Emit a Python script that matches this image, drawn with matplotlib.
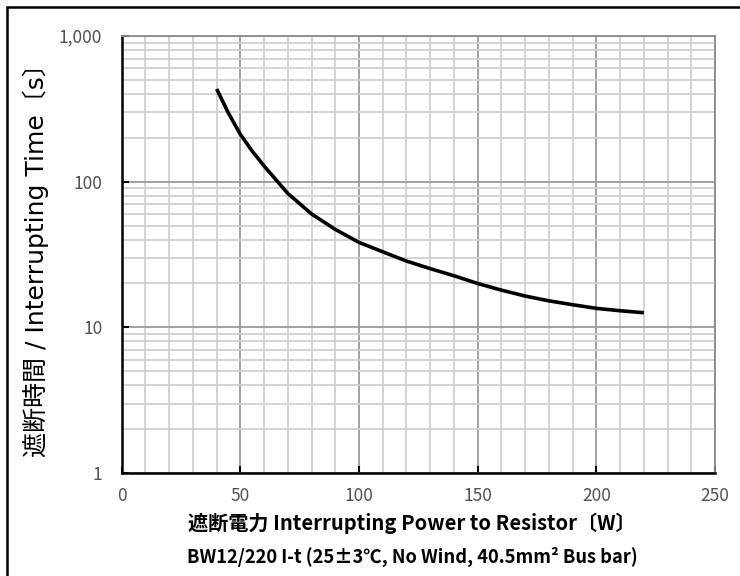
import numpy as np
import matplotlib.pyplot as plt
from matplotlib.patches import Rectangle
from matplotlib.ticker import FixedLocator, NullFormatter

# curve: power [W] vs interrupting time [s]
power = [40, 45, 50, 55, 60, 65, 70, 75, 80, 90, 100, 110, 120, 130, 140,
         150, 160, 170, 180, 190, 200, 210, 220]
time_s = [433, 295, 211, 162, 128, 103, 83, 70.6, 60, 47, 38.3, 33, 28.5, 25.3, 22.6,
          20.0, 18.0, 16.4, 15.2, 14.3, 13.5, 13.0, 12.6]

x_ticks = [0, 50, 100, 150, 200, 250]
y_ticks = [1, 10, 100, 1000]
y_tick_labels = ['1', '10', '100', '1,000']

plt.rcParams['font.family'] = ['Noto Sans CJK JP', 'DejaVu Sans']

fig = plt.figure(figsize=(7.4, 5.76), dpi=100)
ax = fig.add_axes([0.1645, 0.1788, 0.8017, 0.7587])

ax.set_yscale('log')
ax.set_xlim(0, 250)
ax.set_ylim(1, 1000)

ax.xaxis.set_major_locator(FixedLocator(x_ticks))
ax.xaxis.set_minor_locator(FixedLocator(np.arange(0, 251, 10)))
ax.yaxis.set_major_locator(FixedLocator(y_ticks))
minor_y = [m * d for d in (1, 10, 100) for m in range(2, 10)]
ax.yaxis.set_minor_locator(FixedLocator(minor_y))
ax.yaxis.set_minor_formatter(NullFormatter())
ax.set_yticklabels(y_tick_labels)

ax.grid(which='minor', color='#d0d0d0', linewidth=1.3)
ax.grid(which='major', color='#9a9a9a', linewidth=1.3)
ax.set_axisbelow(True)

ax.plot(power, time_s, color='black', linewidth=2.6, solid_capstyle='butt', zorder=5)

for side in ('top', 'right'):
    ax.spines[side].set_color('#8a8a8a')
    ax.spines[side].set_linewidth(1.3)
for side in ('left', 'bottom'):
    ax.spines[side].set_color('black')
    ax.spines[side].set_linewidth(1.8)

ax.tick_params(which='major', direction='in', length=5, width=1.5,
               labelsize=12.5, labelcolor='#505050')
ax.tick_params(axis='y', which='major', pad=14)
ax.tick_params(axis='x', which='major', pad=10)
ax.tick_params(which='minor', length=0)

ax.set_ylabel('遮断時間 / Interrupting Time〔s〕', fontsize=18,
              family=['DejaVu Sans', 'Noto Sans CJK JP'], labelpad=7)

fig.text(0.557, 0.092, '遮断電力 Interrupting Power to Resistor〔W〕',
         ha='center', va='center', fontsize=14.5, fontweight='bold')
fig.text(0.557, 0.033, 'BW12/220 I-t (25±3℃, No Wind, 40.5mm² Bus bar)',
         ha='center', va='center', fontsize=13.2, fontweight='bold')

# outer frame of the original picture
fig.patches.append(Rectangle((0.01, -0.05), 1.2, 1.038, transform=fig.transFigure,
                             fill=False, edgecolor='black', linewidth=1.8))

fig.savefig('out.png', dpi=100)
